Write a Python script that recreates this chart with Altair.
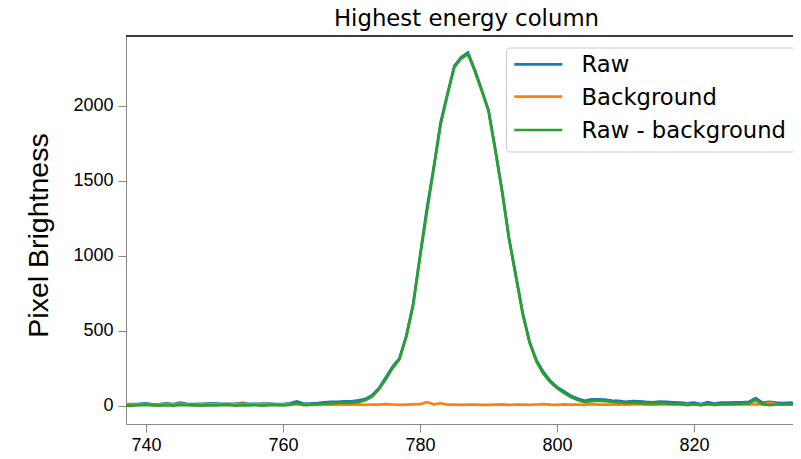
import altair as alt
import pandas as pd

# ---- data ----
x_start = 737
raw_minus_bg = [
    3, 2, 5, 7, 4, 3, 6, 2, 8, 5,
    4, 3, 6, 4, 5, 7, 3, 6, 4, 5,
    3, 6, 5, 4, 7, 20, 6, 8, 12, 15,
    18, 20, 21, 22, 26, 38, 62, 110, 178, 252,
    310, 460, 670, 990, 1290, 1580, 1870, 2070, 2255, 2315,
    2345, 2230, 2100, 1965, 1700, 1420, 1110, 860, 610, 420,
    295, 215, 160, 118, 88, 60, 40, 26, 32, 36,
    33, 27, 24, 20, 22, 19, 18, 17, 19, 16,
    15, 14, 6, 12, 4, 15, 8, 12, 14, 12,
    14, 18, 40, 12, 6, 10, 11, 12, 13, 12,
]
background = [
    8, 10, 9, 11, 7, 9, 12, 10, 14, 9,
    8, 11, 10, 13, 9, 8, 12, 15, 11, 9,
    13, 10, 8, 9, 11, 10, 10, 9, 8, 10,
    9, 8, 10, 9, 11, 8, 10, 9, 12, 10,
    8, 9, 11, 12, 26, 11, 18, 9, 10, 8,
    9, 10, 8, 7, 9, 11, 8, 10, 9, 8,
    10, 12, 9, 8, 11, 9, 10, 8, 12, 9,
    10, 9, 11, 8, 10, 12, 9, 8, 10, 11,
    9, 8, 12, 10, 9, 11, 8, 10, 9, 12,
    10, 9, 13, 11, 22, 12, 9, 10, 8, 9,
]
raw = [a + b for a, b in zip(raw_minus_bg, background)]
pixels = list(range(x_start, x_start + len(raw)))

series_names = ["Raw", "Background", "Raw - background"]
series_colors = ["#1f77b4", "#ff7f0e", "#2ca02c"]
x_ticks = [740, 760, 780, 800, 820]
y_ticks = [0, 500, 1000, 1500, 2000]

rows = []
for name, vals in zip(series_names, [raw, background, raw_minus_bg]):
    for px, v in zip(pixels, vals):
        rows.append({"pixel": px, "value": v, "series": name})
df = pd.DataFrame(rows)

W, H = 667, 388
FONT = "DejaVu Sans"

x_enc = alt.X("pixel:Q", scale=alt.Scale(domain=[737.08, 834.45], nice=False, zero=False),
              axis=alt.Axis(values=x_ticks, title=None, grid=False, labelFontSize=18,
                            tickSize=8, labelPadding=4, format="d"))
y_enc = alt.Y("value:Q", scale=alt.Scale(domain=[-120, 2465], nice=False, zero=False),
              axis=alt.Axis(values=y_ticks, title="Pixel Brightness", grid=False,
                            labelFontSize=18, titleFontSize=28.5, titleFontWeight="normal",
                            tickSize=8, labelPadding=5,
                            titleX=-88, titleY=199, titleAngle=270,
                            titleAlign="center", titleBaseline="middle", format="d"))

lines = alt.Chart(df).mark_line(strokeWidth=2.7, clip=True).encode(
    x=x_enc,
    y=y_enc,
    color=alt.Color("series:N", scale=alt.Scale(domain=series_names, range=series_colors), legend=None),
    detail="series:N",
)

# top spine
top_spine = alt.Chart(pd.DataFrame({"a": [0]})).mark_rule(color="black", strokeWidth=1.3).encode(
    x=alt.value(0), x2=alt.value(W), y=alt.value(0)
)

# manual legend (matplotlib style)
leg_df = pd.DataFrame({"a": [0]})
legend_box = alt.Chart(leg_df).mark_rect(
    fill="white", fillOpacity=0.8, stroke="#cccccc", strokeWidth=1, cornerRadius=4
).encode(x=alt.value(380.5), x2=alt.value(670), y=alt.value(12), y2=alt.value(116))

legend_layers = [legend_box]
row_y = [28.3, 60.7, 94]
for name, col, yy in zip(series_names, series_colors, row_y):
    d = pd.DataFrame({"series": [name]})
    legend_layers.append(
        alt.Chart(d).mark_rule(color=col, strokeWidth=2.7).encode(
            x=alt.value(388.3), x2=alt.value(436.3), y=alt.value(yy)
        )
    )
    legend_layers.append(
        alt.Chart(d).mark_text(align="left", baseline="middle", fontSize=22.7, font=FONT, color="black").encode(
            x=alt.value(455.5), y=alt.value(yy + 1), text="series:N"
        )
    )

chart = alt.layer(lines, top_spine, *legend_layers).properties(
    width=W,
    height=H,
    title=alt.TitleParams("Highest energy column", fontSize=22.8, font=FONT, fontWeight="normal",
                          color="black", anchor="middle", dx=7, offset=5),
    autosize=alt.AutoSizeParams(type="none"),
    padding={"left": 118, "top": 28, "right": 0, "bottom": 31},
).configure_view(stroke=None).configure_axis(
    labelFont=FONT, titleFont=FONT, labelColor="black", titleColor="black",
    domainColor="black", tickColor="black", domainWidth=1.3, tickWidth=1.3,
).configure(background="white")

chart.save("out.html", embed_options={"renderer": "svg", "actions": False})
